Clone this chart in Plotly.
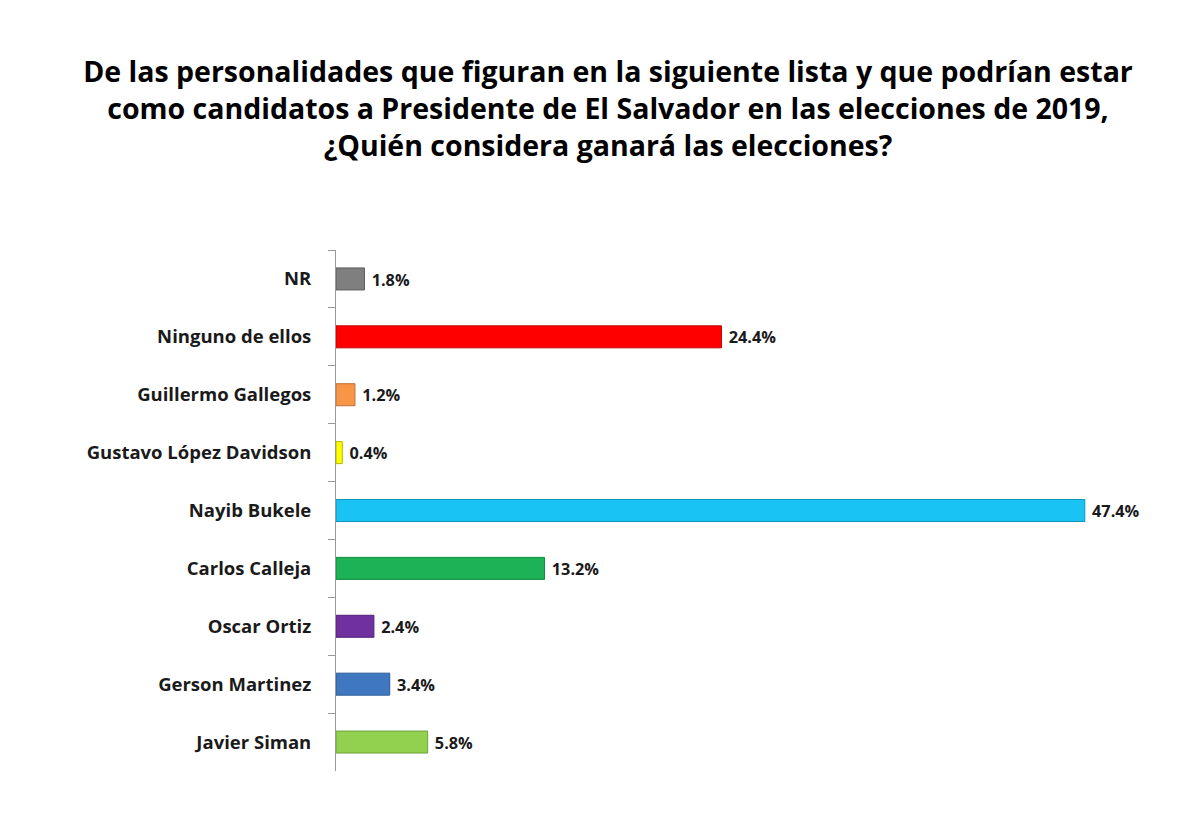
import plotly.graph_objects as go

candidatos = ["NR", "Ninguno de ellos", "Guillermo Gallegos", "Gustavo López Davidson",
              "Nayib Bukele", "Carlos Calleja", "Oscar Ortiz", "Gerson Martinez", "Javier Siman"]
porcentajes = [1.8, 24.4, 1.2, 0.4, 47.4, 13.2, 2.4, 3.4, 5.8]
colores = ["#7f7f7f", "#ff0000", "#f79646", "#ffff00", "#19c3f3",
           "#1db256", "#7030a0", "#3f78c0", "#92d050"]
bordes = ["#5c5c5c", "#c00000", "#c0703a", "#b8b800", "#1193bb",
          "#128a40", "#4f2075", "#2c5a92", "#6ea33a"]

titulo = ("De las personalidades que figuran en la siguiente lista y que podrían estar<br>"
          "como candidatos a Presidente de El Salvador en las elecciones de 2019,<br>"
          "¿Quién considera ganará las elecciones?")

fuente = "Open Sans"

fig = go.Figure()
fig.add_trace(go.Bar(
    x=porcentajes, y=candidatos, orientation="h",
    marker=dict(color=colores, line=dict(color=bordes, width=1)),
    width=0.38,
    text=[f" {v:.1f}%" for v in porcentajes],
    textposition="outside",
    textfont=dict(family=fuente, size=18.5, color="#1a1a1a", weight="bold"),
    cliponaxis=False,
))

fig.update_layout(
    title=dict(text=titulo, x=0.5, xanchor="center", y=0.911, yanchor="top",
               font=dict(family=fuente, size=28.5, color="#000000", weight="bold")),
    font=dict(family=fuente, color="#000000"),
    width=1200, height=828,
    margin=dict(l=328, r=60, t=242, b=65),
    plot_bgcolor="white", paper_bgcolor="white",
    showlegend=False,
)
fig.update_xaxes(range=[0, 51.4], visible=False)
fig.update_yaxes(autorange="reversed", tickson="boundaries", ticks="outside", ticklen=7,
                 tickcolor="#999999", showline=True, linecolor="#999999", linewidth=1,
                 showgrid=False, ticklabelstandoff=20, automargin=False,
                 tickfont=dict(family=fuente, size=18.5, color="#1a1a1a", weight="bold"))

fig.write_html("out.html")
